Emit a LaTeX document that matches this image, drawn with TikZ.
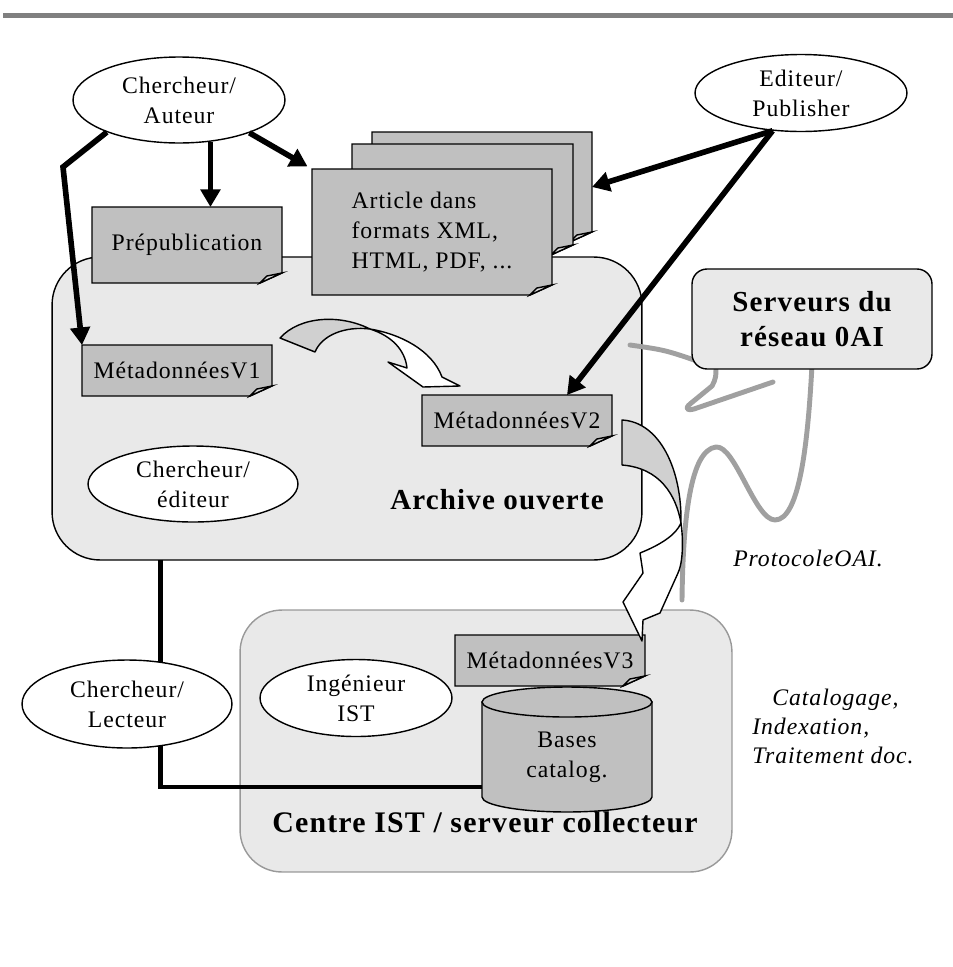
\documentclass[tikz,border=0pt]{standalone}
\usepackage{fontspec}
\setmainfont{Liberation Serif}[LetterSpace=4]
\usetikzlibrary{arrows.meta,calc,backgrounds,shapes.geometric}

\definecolor{docgray}{HTML}{C0C0C0}
\definecolor{zonegray}{HTML}{E9E9E9}
\definecolor{foldgray}{HTML}{DADADA}
\definecolor{wiregray}{HTML}{A0A0A0}
\definecolor{bargray}{HTML}{808080}
\definecolor{ribbongray}{HTML}{D0D0D0}
\definecolor{rimgray}{HTML}{999999}

\tikzset{
  txt/.style={font=\fontsize{13.5}{17}\selectfont},
  note/.style={font=\fontsize{13.5}{16.5}\selectfont\itshape},
  title/.style={font=\fontsize{16.5}{20}\selectfont\bfseries},
  actor/.style={ellipse, draw, line width=0.8pt, fill=white, inner sep=0pt, align=center, txt},
  doc/.style={rectangle, inner sep=0pt, outer sep=0pt, align=center, txt},
  zone/.style={rectangle, draw, line width=0.8pt, fill=zonegray, outer sep=0pt},
  flow/.style={line width=3.2pt, -{Triangle[length=10pt,width=11pt]}},
  link/.style={line width=2.8pt},
  wire/.style={wiregray, line width=2.8pt, line cap=round, line join=round},
  ribbon/.style={draw, line width=0.8pt, line join=round},
}

% page with a folded corner, drawn behind node #1
\newcommand\docshape[1]{%
  \draw[line width=0.8pt, fill=docgray] (#1.north west) -- (#1.north east)
    -- ($(#1.south east)+(0,-10)$) -- ($(#1.south east)+(-22,0)$) -- (#1.south west) -- cycle;
  \draw[line width=0.8pt, fill=foldgray] ($(#1.south east)+(-22,0)$) -- ($(#1.south east)+(-15,-7)$)
    .. controls ($(#1.south east)+(-8,-9)$) .. ($(#1.south east)+(0,-10)$) -- cycle;
}

\begin{document}
\begin{tikzpicture}[x=0.02cm, y=-0.02cm]
    \useasboundingbox (0,0) rectangle (953,967);

    % Draw top rule
    \draw[bargray, line width=2.8pt] (3,15.5) -- (953,15.5);

    % Draw zones
    \begin{scope}[on background layer]
        \node[zone, rounded corners=0.96cm, minimum width=11.8cm, minimum height=6.06cm] (archive) at (347,408.5) {};
        \node[zone, draw=rimgray, rounded corners=0.84cm, minimum width=9.84cm, minimum height=5.24cm] (centre) at (486,741) {};
    \end{scope}

    % Draw documents
    \node[doc, minimum width=4.4cm, minimum height=2.2cm] (page3) at (482,187) {};
    \node[doc, minimum width=4.42cm, minimum height=2.22cm] (page2) at (462.5,199.5) {};
    \node[doc, minimum width=4.8cm, minimum height=2.52cm, align=left] (article) at (432,232) {Article dans\\formats XML,\\HTML, PDF, ...};
    \node[doc, minimum width=3.8cm, minimum height=1.52cm] (prepub) at (187,245) {Prépublication};
    \node[doc, minimum width=3.8cm, minimum height=1.02cm] (meta1) at (177,370.5) {MétadonnéesV1};
    \node[doc, minimum width=3.8cm, minimum height=1.02cm] (meta2) at (517,420.5) {MétadonnéesV2};
    \node[doc, minimum width=3.8cm, minimum height=1.02cm] (meta3) at (550,660.5) {MétadonnéesV3};
    \node[doc, minimum width=3.4cm, minimum height=2.2cm] (bases) at (567,757) {Bases\\catalog.};

    \begin{scope}[on background layer]
        \docshape{page3}
        \docshape{page2}
        \docshape{article}
        \docshape{prepub}
        \docshape{meta1}
        \docshape{meta2}
        \docshape{meta3}
        \draw[line width=0.8pt, fill=docgray] (bases.north west) -- ($(bases.south west)+(0,-15)$)
            arc[start angle=180, end angle=360, x radius=1.7cm, y radius=0.3cm] -- (bases.north east) -- cycle;
        \draw[line width=0.8pt, fill=docgray] (bases.north) ellipse [x radius=1.7cm, y radius=0.3cm];
    \end{scope}

    % Draw actors
    \node[actor, minimum width=4.24cm, minimum height=1.72cm] (auteur) at (179,100) {Chercheur/\\Auteur};
    \node[actor, minimum width=4.24cm, minimum height=1.54cm] (editeur) at (801,93) {Editeur/\\Publisher};
    \node[actor, minimum width=4.2cm, minimum height=1.52cm] (cheditor) at (193,484) {Chercheur/\\éditeur};
    \node[actor, minimum width=3.84cm, minimum height=1.54cm] (inge) at (356,698) {Ingénieur\\IST};
    \node[actor, minimum width=4.2cm, minimum height=1.76cm] (lecteur) at (127,704) {Chercheur/\\Lecteur};

    % Draw labels
    \node[title] (archlabel) at (497,500) {Archive ouverte};
    \node[title, font=\fontsize{17}{20}\selectfont\bfseries] (centrelabel) at (485,822) {Centre IST / serveur collecteur};
    \node[note] (protocole) at (808,558) {ProtocoleOAI.};
    \node[note, align=left, anchor=west, inner sep=0pt] (catalog) at (752,726) {\hspace*{0.4cm}Catalogage,\\Indexation,\\Traitement doc.};

    % Draw OAI wires
    \draw[wire] (630,345) .. controls (665,350) .. (700,362);
    \draw[wire] (716,362) .. controls (716,378) .. (712,386) -- (690,404)
        .. controls (684,409) and (688,411) .. (694,409) -- (773,382);
    \draw[wire] (812,365) .. controls (808,440) and (800,520) .. (775,520)
        .. controls (755,520) and (735,445) .. (716,447)
        .. controls (690,450) and (683,520) .. (682,600);
    \node[draw, line width=0.8pt, fill=zonegray, rounded corners=0.3cm, minimum width=4.8cm, minimum height=2cm,
        align=center, title] (serveurs) at (812,319) {Serveurs du\\réseau 0AI};

    % Draw flows
    \coordinate (kink) at (63,167);
    \draw[flow] (auteur.204) -- (kink) -- (meta1.north west);
    \draw[flow] (auteur.-53) -- (auteur.-53 |- prepub.north);
    \draw[flow, shorten >=3pt] (auteur.-25) -- (article.north west);
    \draw[flow] (editeur.233) -- (page3.east);
    \draw[flow] (editeur.233) -- ($(meta2.north)+(50,0)$);

    \draw[link] (archive.south -| lecteur.52) -- (lecteur.52);
    \draw[link] (lecteur.-52) |- ($(bases.west)+(0,30)$);

    % Draw bent arrows
    \draw[ribbon, fill=ribbongray] (280,338) .. controls (300,316) and (340,314) .. (370,329)
        .. controls (345,326) and (322,335) .. (315,352) -- cycle;
    \draw[ribbon, fill=white] (370,329) .. controls (400,334) and (432,350) .. (442,377)
        -- (460,386) -- (423,387) -- (388,362) -- (407,368)
        .. controls (405,350) and (392,336) .. (370,329) -- cycle;
    \draw[ribbon, fill=ribbongray] (622,420) .. controls (660,422) and (682,470) .. (681,523)
        .. controls (676,495) and (660,468) .. (622,465) -- cycle;
    \draw[ribbon, fill=white] (681,523) .. controls (684,545) and (682,565) .. (678,573)
        -- (660,613) -- (643,620) -- (642,641) -- (623,602) -- (643,573) -- (640,553)
        .. controls (660,545) and (676,535) .. (681,523) -- cycle;
\end{tikzpicture}
\end{document}
